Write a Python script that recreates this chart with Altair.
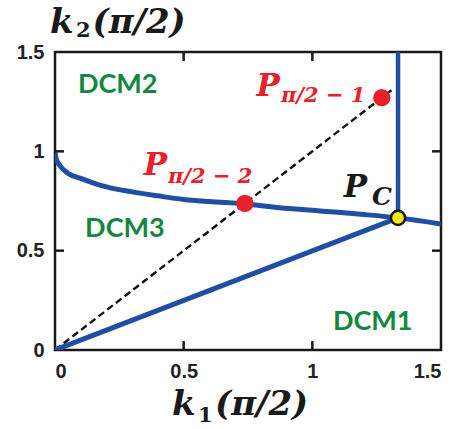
import altair as alt
import pandas as pd

# ---- data ----
curve_x = [0, 0.005, 0.02, 0.05, 0.1, 0.15, 0.2, 0.3, 0.4, 0.5, 0.6, 0.74, 0.874, 1.0, 1.1, 1.2, 1.333, 1.5]
curve_y = [1.0, 0.96, 0.927, 0.89, 0.864, 0.84, 0.821, 0.796, 0.776, 0.758, 0.747, 0.735, 0.716, 0.703, 0.693, 0.682, 0.665, 0.634]

lower_x = [0, 1.333]
lower_y = [0, 0.665]

vert_x = [1.333, 1.333]
vert_y = [0.665, 1.5]

diag_x = [0, 1.31]
diag_y = [0, 1.31]

red_x = [1.27, 0.738]
red_y = [1.27, 0.738]

pc_x = [1.333]
pc_y = [0.665]

region_text = ["DCM2", "DCM3", "DCM1"]
region_x = [0.089, 0.117, 1.08]
region_y = [1.293, 0.569, 0.10]

pbig_text = ["P", "P"]
pbig_x = [0.874, 0.435]
pbig_y = [1.278, 0.881]
psub_text = ["π/2 − 1", "π/2 − 2"]
psub_x = [0.878, 0.439]
psub_y = [1.248, 0.840]

pc_big_text = ["P"]
pc_big_x = [1.213]
pc_big_y = [0.770]
pc_sub_text = ["C"]
pc_sub_x = [1.232]
pc_sub_y = [0.730]

# axis titles, split into main letter, subscript and argument
title_main_text = ["k", "(π/2)", "k", "(π/2)"]
title_main_x = [-0.0194, 0.146, 0.455, 0.622]
title_main_y = [1.595, 1.595, -0.327, -0.327]
title_sub_text = ["2", "1"]
title_sub_x = [0.0816, 0.556]
title_sub_y = [1.578, -0.362]

tick_vals = [0.5, 1.0]
tick_labels = [0, 0.5, 1, 1.5]

BLUE = "#1f4fa3"
RED = "#e8202a"
GREEN = "#13873f"
DARK = "#1a1a1a"
SERIF = "DejaVu Serif"

xs = alt.Scale(domain=[0, 1.5], nice=False, zero=False)
ys = alt.Scale(domain=[0, 1.5], nice=False, zero=False)

x_axis = alt.Axis(values=tick_labels, format="~g", ticks=False, domain=False, grid=False,
                  labelFont="Liberation Sans", labelFontWeight="bold", labelFontSize=20,
                  labelColor="#222", labelPadding=11, title=None)
y_axis = alt.Axis(values=tick_labels, format="~g", ticks=False, domain=False, grid=False,
                  labelFont="Liberation Sans", labelFontWeight="bold", labelFontSize=20,
                  labelColor="#222", labelPadding=11, title=None)

def line_layer(xv, yv, **kw):
    df = pd.DataFrame({"x": xv, "y": yv, "o": range(len(xv))})
    return alt.Chart(df).mark_line(clip=True, **kw).encode(
        x=alt.X("x:Q", scale=xs, axis=x_axis),
        y=alt.Y("y:Q", scale=ys, axis=y_axis),
        order="o:Q")

curve = line_layer(curve_x, curve_y, color=BLUE, strokeWidth=5, interpolate="monotone")
lower = line_layer(lower_x, lower_y, color=BLUE, strokeWidth=5)
vert = line_layer(vert_x, vert_y, color=BLUE, strokeWidth=4.5)
diag = line_layer(diag_x, diag_y, color="#111", strokeWidth=2.4, strokeDash=[7, 4])

# inward ticks on all four sides
tdf = pd.DataFrame({"v": tick_vals})
tb = alt.Chart(tdf).mark_rule(color=DARK, strokeWidth=2.5).encode(
    x="v:Q", y=alt.datum(0), y2=alt.datum(0.045))
tt = alt.Chart(tdf).mark_rule(color=DARK, strokeWidth=2.5).encode(
    x="v:Q", y=alt.datum(1.5), y2=alt.datum(1.455))
tl = alt.Chart(tdf).mark_rule(color=DARK, strokeWidth=2.5).encode(
    y="v:Q", x=alt.datum(0), x2=alt.datum(0.035))
tr = alt.Chart(tdf).mark_rule(color=DARK, strokeWidth=2.5).encode(
    y="v:Q", x=alt.datum(1.5), x2=alt.datum(1.465))

reds = alt.Chart(pd.DataFrame({"x": red_x, "y": red_y})).mark_point(
    filled=True, color=RED, size=300, opacity=1, shape="circle").encode(x="x:Q", y="y:Q")
pc = alt.Chart(pd.DataFrame({"x": pc_x, "y": pc_y})).mark_point(
    filled=True, fill="#f7e81a", stroke="#1a1a1a", strokeWidth=2.5, size=200,
    opacity=1, shape="circle").encode(x="x:Q", y="y:Q")

regions = alt.Chart(pd.DataFrame({"x": region_x, "y": region_y, "t": region_text})).mark_text(
    font="Lato", fontWeight="bold", fontSize=27, color=GREEN, align="left",
    baseline="alphabetic").encode(x="x:Q", y="y:Q", text="t:N")

pbig = alt.Chart(pd.DataFrame({"x": pbig_x, "y": pbig_y, "t": pbig_text})).mark_text(
    font=SERIF, fontStyle="italic", fontWeight="bold", fontSize=31, color=RED,
    align="right", baseline="alphabetic").encode(x="x:Q", y="y:Q", text="t:N")
psub = alt.Chart(pd.DataFrame({"x": psub_x, "y": psub_y, "t": psub_text})).mark_text(
    font=SERIF, fontStyle="italic", fontWeight="bold", fontSize=21, color=RED,
    align="left", baseline="alphabetic").encode(x="x:Q", y="y:Q", text="t:N")

pcbig = alt.Chart(pd.DataFrame({"x": pc_big_x, "y": pc_big_y, "t": pc_big_text})).mark_text(
    font=SERIF, fontStyle="italic", fontWeight="bold", fontSize=31, color=DARK,
    align="right", baseline="alphabetic").encode(x="x:Q", y="y:Q", text="t:N")
pcsub = alt.Chart(pd.DataFrame({"x": pc_sub_x, "y": pc_sub_y, "t": pc_sub_text})).mark_text(
    font=SERIF, fontStyle="italic", fontWeight="bold", fontSize=25, color=DARK,
    align="left", baseline="alphabetic").encode(x="x:Q", y="y:Q", text="t:N")

tmain = alt.Chart(pd.DataFrame({"x": title_main_x, "y": title_main_y, "t": title_main_text})).mark_text(
    font=SERIF, fontStyle="italic", fontWeight="bold", fontSize=34, color=DARK,
    align="left", baseline="alphabetic").encode(x="x:Q", y="y:Q", text="t:N")
tsub = alt.Chart(pd.DataFrame({"x": title_sub_x, "y": title_sub_y, "t": title_sub_text})).mark_text(
    font=SERIF, fontWeight="bold", fontSize=21, color=DARK,
    align="left", baseline="alphabetic").encode(x="x:Q", y="y:Q", text="t:N")

chart = alt.layer(
    diag, lower, curve, vert, tb, tt, tl, tr, reds, pc, regions, pbig, psub, pcbig, pcsub,
    tmain, tsub
).properties(
    width=386, height=298,
    autosize=alt.AutoSizeParams(type="none"),
    padding={"left": 55, "top": 52, "right": 20, "bottom": 79},
    background="white",
).configure_view(stroke=DARK, strokeWidth=2.5)

chart.save("out.html", embed_options={"renderer": "svg", "actions": False})
